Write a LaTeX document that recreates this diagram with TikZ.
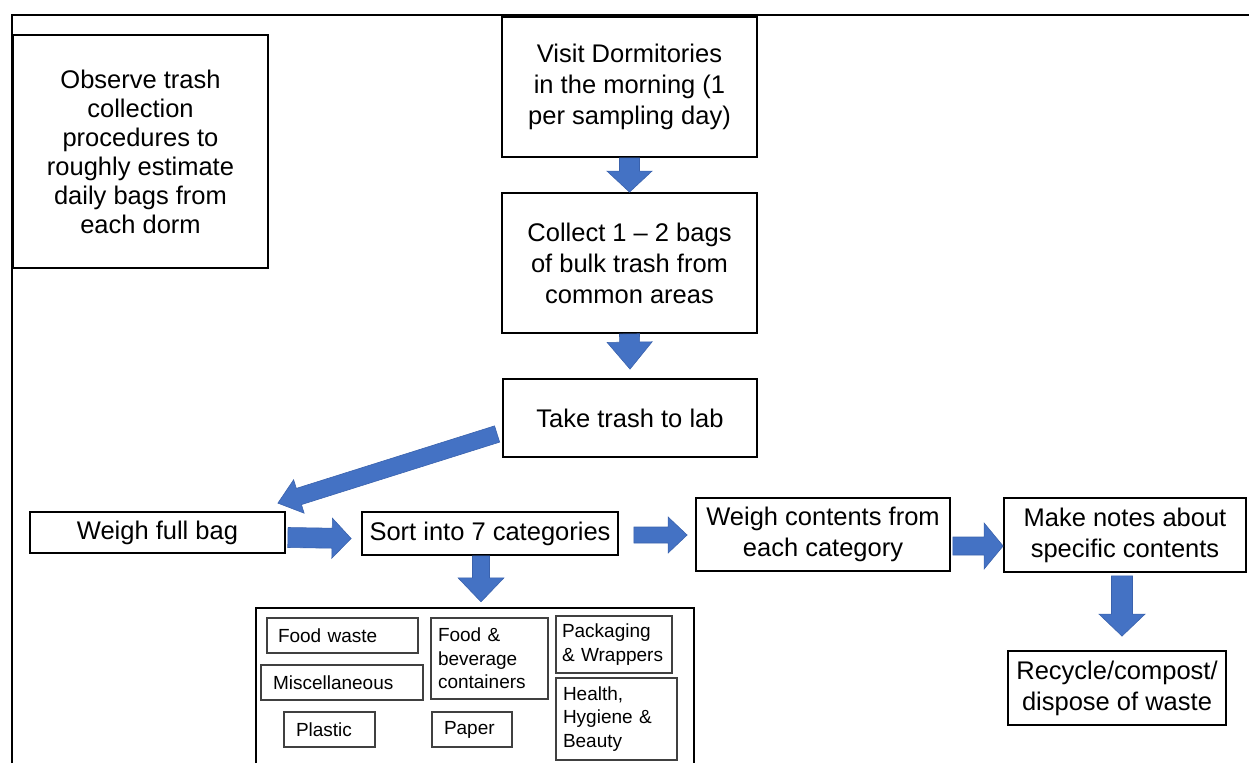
\documentclass[tikz,border=0pt]{standalone}
\usepackage{fontspec}
\setmainfont{Liberation Sans}
\usetikzlibrary{calc}
\definecolor{arrowblue}{HTML}{4472C4}
\definecolor{arrowedge}{HTML}{3A62AD}
\newcommand\mainf{\fontsize{25.5}{31}\selectfont}
\newcommand\obsf{\fontsize{25.5}{29}\selectfont}
\newcommand\catf{\fontsize{19}{23.5}\selectfont}
\newcommand\blockarrow[5]{% tail, tip, body half, head half, head length
  \coordinate (ba-h) at ($(#2)!#5pt!(#1)$);
  \draw[barrow] ($(#1)!#3pt!90:(#2)$) -- ($(ba-h)!#3pt!-90:(#1)$) -- ($(ba-h)!#4pt!-90:(#1)$) -- (#2)
    -- ($(ba-h)!#4pt!90:(#1)$) -- ($(ba-h)!#3pt!90:(#1)$) -- ($(#1)!#3pt!-90:(#2)$) -- cycle;}
\tikzset{
  box/.style={draw=black, line width=1.8pt, align=center, inner sep=0pt, font=\mainf},
  catbox/.style={draw=black!75, line width=1.1pt, align=left, inner ysep=0pt, font=\catf},
  frameline/.style={draw=black, line width=2pt},
  catouter/.style={draw=black, line width=1.5pt},
  barrow/.style={fill=arrowblue, draw=arrowedge, line width=0.6pt, line join=miter}
}
\begin{document}
\begin{tikzpicture}[x=1pt,y=-1pt]
\useasboundingbox (0,0) rectangle (1249,763);
% frame
\coordinate (fr1) at (12,763);
\coordinate (fr2) at (12,15);
\coordinate (fr3) at (1249,15);
\draw[frameline] (fr1) -- (fr2) -- (fr3);
% main boxes
\node[box, font=\obsf, minimum width=255, minimum height=233] (obs) at (140.5,151.5)
  {Observe trash\\collection\\procedures to\\roughly estimate\\daily bags from\\each dorm};
\node[box, minimum width=255, minimum height=140] (visit) at (629.5,87)
  {Visit Dormitories\\in the morning (1\\per sampling day)};
\node[box, minimum width=255, minimum height=140] (collect) at (629.5,263)
  {Collect 1 – 2 bags\\of bulk trash from\\common areas};
\node[box, minimum width=254, minimum height=78] (lab) at (630,418) {Take trash to lab};
\node[box, minimum width=255, minimum height=41] (weigh) at (157.5,532.5) {Weigh full bag};
\node[box, minimum width=256, minimum height=43] (sort) at (490,533.5) {Sort into 7 categories};
\node[box, minimum width=254, minimum height=73] (contents) at (823,534.5)
  {Weigh contents from\\each category};
\node[box, minimum width=242, minimum height=74] (notes) at (1125,535)
  {Make notes about\\specific contents};
\node[box, minimum width=218, minimum height=74] (recycle) at (1117,688)
  {Recycle/compost/\\dispose of waste};
% categories container
\node[minimum width=438, minimum height=155, inner sep=0pt] (cats) at (475,685.5) {};
\draw[catouter] (cats.south west) -- (cats.north west) -- (cats.north east) -- (cats.south east);
\node[catbox, text width=129, inner xsep=11, minimum height=35] (food) at (342.5,635.5) {Food waste};
\node[catbox, text width=138, inner xsep=12, minimum height=35] (misc) at (342,682.5) {Miscellaneous};
\node[catbox, text width=67, inner xsep=12, minimum height=35] (plastic) at (329.5,729.5) {Plastic};
\node[catbox, text width=103, inner xsep=7, minimum height=81] (fbc) at (489.5,658.5) {Food \&\\beverage\\containers};
\node[catbox, text width=56, inner xsep=12, minimum height=35] (paper) at (472,729.5) {Paper};
\node[catbox, text width=104, inner xsep=6, minimum height=57] (pack) at (614,644.5) {Packaging\\\& Wrappers};
\node[catbox, text width=107, inner xsep=7, minimum height=82] (health) at (616.5,719) {Health,\\Hygiene \&\\Beauty};
% arrow end points
\coordinate (a2e) at ($(lab.north)+(0,-9)$);
\coordinate (a3s) at ($(lab.west)+(-5,16)$);
\coordinate (a3e) at ($(weigh.north east)+(-8,-8)$);
\coordinate (a4s) at ($(weigh.east)+(2,5)$);
\coordinate (a4e) at ($(sort.west)+(-10,5)$);
\coordinate (a5s) at ($(sort.east)+(15,1.5)$);
\coordinate (a5e) at ($(contents.west)+(-8,0.5)$);
\coordinate (a6s) at ($(contents.east)+(2,11.5)$);
\coordinate (a6e) at ($(notes.west)+(0,11)$);
\coordinate (a7s) at ($(notes.south)+(-3,3)$);
\coordinate (a7e) at ($(recycle.north)+(5,-14)$);
\coordinate (a8s) at ($(sort.south)+(-9,0)$);
\coordinate (a8e) at ($(cats.north)+(6,-6)$);
% block arrows
\blockarrow{visit.south}{collect.north}{10}{22.5}{21}
\blockarrow{collect.south}{a2e}{10}{22.5}{27}
\blockarrow{a3s}{a3e}{8.5}{17.5}{22}
\blockarrow{a4s}{a4e}{10}{20}{19}
\blockarrow{a5s}{a5e}{8}{18}{19}
\blockarrow{a6s}{a6e}{9}{23}{19}
\blockarrow{a7s}{a7e}{10.5}{23}{22}
\blockarrow{a8s}{a8e}{8.5}{23}{24}
\end{tikzpicture}
\end{document}
